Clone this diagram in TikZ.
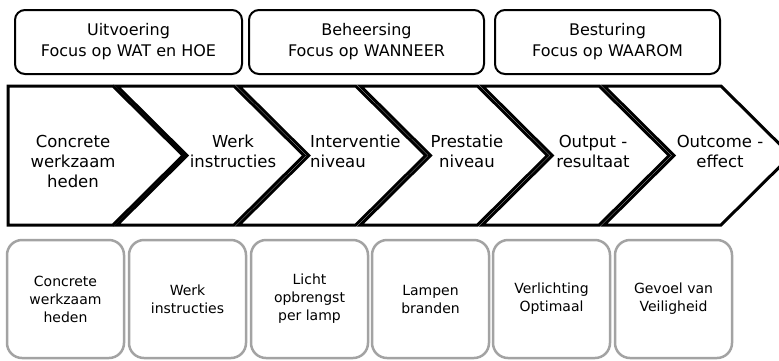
\documentclass[tikz,border=0pt]{standalone}
\usepackage{fontspec}
\setmainfont{DejaVu Sans}
\begin{document}
\begin{tikzpicture}[x=1pt,y=-1pt,
  headbox/.style={draw=black, line width=2pt, rounded corners=10pt,
    minimum height=64pt, align=center, inner sep=0pt,
    font=\fontsize{16}{21}\selectfont},
  chevron/.style={draw=black, line width=3pt, fill=white, line join=miter},
  chevtext/.style={inner sep=0pt, align=center, anchor=north,
    font=\fontsize{16.5}{20}\selectfont},
  itembox/.style={draw=black!36, line width=2.5pt, rounded corners=15pt,
    minimum width=117pt, minimum height=118pt, align=center, inner sep=0pt,
    font=\fontsize{14}{18}\selectfont}
]
\useasboundingbox (0,0) rectangle (779,360);
\clip (0,0) rectangle (779,360);

% top row: three focus areas
\node[headbox, minimum width=227pt] (uitv) at (128.5,42) {Uitvoering\\Focus op WAT en HOE};
\node[headbox, minimum width=235pt] (beh)  at (366.5,42) {Beheersing\\Focus op WANNEER};
\node[headbox, minimum width=225pt] (best) at (607.5,42) {Besturing\\Focus op WAAROM};

% middle row: chain of chevrons
\def\ytop{86}\def\ybot{225}\def\ymid{155.5}\def\dep{70}
\draw[chevron] (8,\ytop) -- (113,\ytop) -- (113+\dep,\ymid) -- (113,\ybot) -- (8,\ybot) -- cycle;
\foreach \L in {117,238.75,360.5,482.25,604}{
  \draw[chevron] (\L,\ytop) -- (\L+117,\ytop) -- (\L+117+\dep,\ymid)
    -- (\L+117,\ybot) -- (\L,\ybot) -- (\L+\dep,\ymid) -- cycle;
}
\node[chevtext] (c1) at (73,135)  {Concrete\\werkzaam\\heden};
\node[chevtext] (c2) at (233,135) {Werk\\instructies};
\node[chevtext, anchor=north west, align=left] (c3) at (310,135) {Interventie\\niveau};
\node[chevtext] (c4) at (467,135) {Prestatie\\niveau};
\node[chevtext] (c5) at (593,135) {Output -\\resultaat};
\node[chevtext] (c6) at (720,135) {Outcome -\\effect};

% bottom row: concrete examples
\node[itembox] (v1) at (65.5,299)  {Concrete\\werkzaam\\heden};
\node[itembox] (v2) at (187.5,299) {Werk\\instructies};
\node[itembox] (v3) at (309.5,299) {Licht\\opbrengst\\per lamp};
\node[itembox] (v4) at (430.5,299) {Lampen\\branden};
\node[itembox] (v5) at (551.5,299) {Verlichting\\Optimaal};
\node[itembox] (v6) at (673.5,299) {Gevoel van\\Veiligheid};
\end{tikzpicture}
\end{document}
